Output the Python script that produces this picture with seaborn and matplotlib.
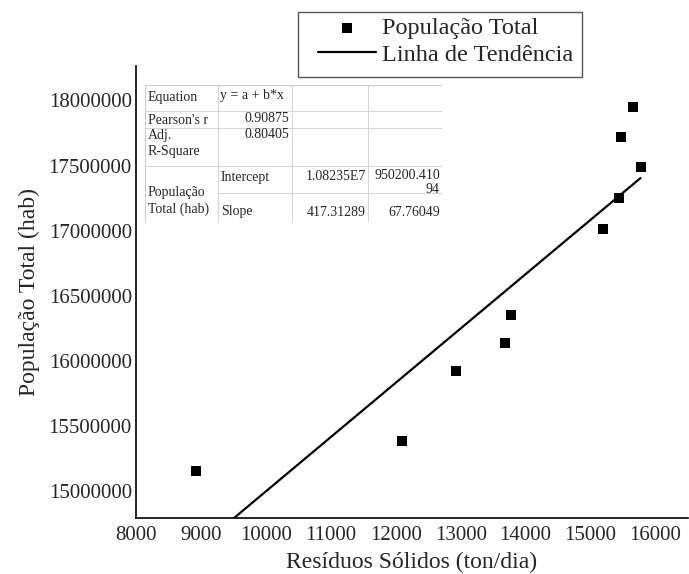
import matplotlib
matplotlib.use("Agg")
import numpy as np
import pandas as pd
import seaborn as sns
import matplotlib.pyplot as plt
from matplotlib.lines import Line2D

# data
residuos = [8923, 12092, 12934, 13677, 13769, 15185, 15431, 15462, 15646, 15769]
populacao = [15153900, 15384600, 15923100, 16136200, 16353800,
             17015400, 17253900, 17723100, 17953800, 17492300]

# fit reported in the table
intercept = 1.08235e7
slope = 417.31289

table_rows = [
    ["Equation", "y = a + b*x", "", ""],
    ["Pearson's r", "0.90875", "", ""],
    ["Adj.\nR-Square", "0.80405", "", ""],
    ["População\nTotal (hab)", "Intercept", "1.08235E7", "950200.410\n94"],
    ["", "Slope", "417.31289", "67.76049"],
]

sns.set_style("white")
plt.rcParams['font.family'] = ['Liberation Serif', 'DejaVu Serif']

df = pd.DataFrame({'x': residuos, 'y': populacao})
xl = np.array([min(residuos), max(residuos)])
dfl = pd.DataFrame({'x': xl, 'y': intercept + slope * xl})

fig = plt.figure(figsize=(6.89, 5.74), dpi=100)
ax = fig.add_axes([136 / 689, 1 - 518 / 574, 552 / 689, 452 / 574])

sns.scatterplot(data=df, x='x', y='y', marker='s', s=44, color='black',
                linewidth=0, ax=ax, zorder=3, label='População Total')
sns.lineplot(data=dfl, x='x', y='y', color='black', linewidth=1.6, ax=ax,
             label='Linha de Tendência')

ax.set_xlim(8000, 16500)
ax.set_ylim(14792000, 18265000)
ax.set_xticks(range(8000, 16001, 1000))
ax.set_yticks(range(15000000, 18000001, 500000))
ax.ticklabel_format(style='plain', useOffset=False)
ax.tick_params(length=0, labelsize=15, pad=3)
ax.tick_params(axis='x', pad=6)
for s in ['top', 'right']:
    ax.spines[s].set_visible(False)
for s in ['left', 'bottom']:
    ax.spines[s].set_color('black')
    ax.spines[s].set_linewidth(1.2)
ax.set_xlabel('Resíduos Sólidos (ton/dia)', fontsize=17, labelpad=5)
ax.set_ylabel('População Total (hab)', fontsize=17, labelpad=6)

# legend without its own frame; the box is drawn separately so the padding
# can be wider at the left than at the top and bottom
handles, labels = ax.get_legend_handles_labels()
leg = ax.legend(handles, labels, loc='upper left', bbox_to_anchor=(318 / 689, 1 - 17 / 574),
                bbox_transform=fig.transFigure, fontsize=17.5, frameon=False,
                borderpad=0, handlelength=2.4, handletextpad=0.25,
                labelspacing=0.2, borderaxespad=0)
fig.patches.append(plt.Rectangle((298 / 689, 1 - 77 / 574), 284 / 689, 65 / 574,
                                 transform=fig.transFigure, facecolor='none',
                                 edgecolor='#555555', linewidth=1.0))

# the fit table inside the plot
x_left, x_right, y_top, y_bot = 145, 442, 85, 222
tab = fig.add_axes([x_left / 689, 1 - y_bot / 574, (x_right - x_left) / 689, (y_bot - y_top) / 574])
tab.set_xlim(x_left, x_right)
tab.set_ylim(y_bot, y_top)
tab.axis('off')
tab.add_patch(plt.Rectangle((x_left, y_top), x_right - x_left, y_bot - y_top, facecolor='white',
                            edgecolor='#cccccc', linewidth=0.8))
gc = '#d4d4d4'
cols = [218, 292, 368]
rows = [111, 128, 166, 193]
for c in cols:
    tab.add_line(Line2D([c, c], [y_top, y_bot], color=gc, lw=0.7))
for r in rows:
    x0 = 218 if r == 193 else x_left
    tab.add_line(Line2D([x0, x_right], [r, r], color=gc, lw=0.7))

fs = 10
tab.text(148, 98, table_rows[0][0], fontsize=fs, va='center')
tab.text(148, 120, table_rows[1][0], fontsize=fs, va='center')
tab.text(148, 129, table_rows[2][0], fontsize=fs, va='top', linespacing=1.25)
tab.text(148, 201, table_rows[3][0], fontsize=fs, va='center', linespacing=1.25)
tab.text(220, 95, table_rows[0][1], fontsize=fs, va='center')
tab.text(289, 119, table_rows[1][1], fontsize=fs, va='center', ha='right')
tab.text(289, 135, table_rows[2][1], fontsize=fs, va='center', ha='right')
tab.text(221, 177, table_rows[3][1], fontsize=fs, va='center')
tab.text(221, 212, table_rows[4][1], fontsize=fs, va='center')
tab.text(366, 177, table_rows[3][2], fontsize=fs, va='center', ha='right')
tab.text(366, 212, table_rows[4][2], fontsize=fs, va='center', ha='right')
tab.text(440, 169, table_rows[3][3], fontsize=fs, va='top', ha='right', linespacing=1.1)
tab.text(440, 212, table_rows[4][3], fontsize=fs, va='center', ha='right')

plt.savefig('out.png', dpi=100)
